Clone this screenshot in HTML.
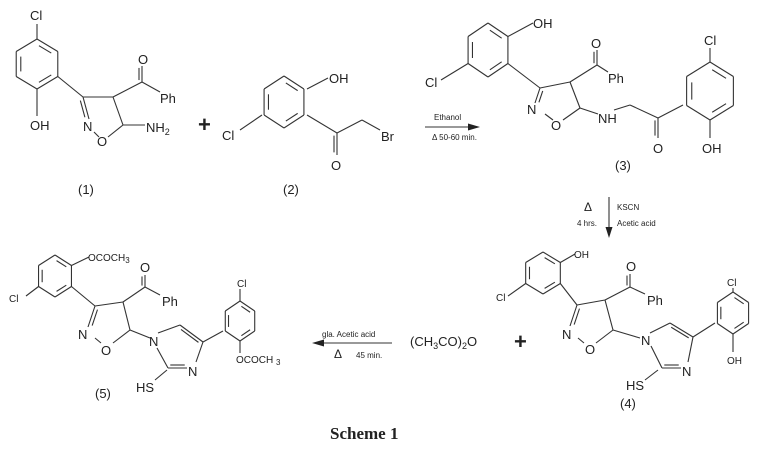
<!DOCTYPE html>
<html><head><meta charset="utf-8">
<style>
html,body{margin:0;padding:0;background:#fff;}
svg{display:block;}
text{font-family:"Liberation Sans",Arial,sans-serif;fill:#222;}
.s{font-size:8px;}
.m{font-size:10px;}
.l{font-size:13px;}
</style></head>
<body>
<svg id="sv" width="763" height="456" viewBox="0 0 763 456" xmlns="http://www.w3.org/2000/svg">
<g id="bonds" stroke="#333" stroke-width="1.1" fill="none"></g>
<!-- compound 1 -->
<text class="l" x="30" y="20">Cl</text>
<text class="l" x="30" y="130">OH</text>
<text class="l" x="83" y="131">N</text>
<text class="l" x="97" y="146">O</text>
<text class="l" x="138" y="64">O</text>
<text class="l" x="160" y="103">Ph</text>
<text class="l" x="146" y="132">NH<tspan font-size="9" dy="3">2</tspan></text>
<text class="l" x="78" y="194">(1)</text>
<text x="198" y="132" style="font-size:22px;font-weight:bold">+</text>
<!-- compound 2 -->
<text class="l" x="329" y="83">OH</text>
<text class="l" x="222" y="140">Cl</text>
<text class="l" x="331" y="170">O</text>
<text class="l" x="381" y="141">Br</text>
<text class="l" x="283" y="194">(2)</text>
<!-- arrow 1 -->
<text class="s" x="434" y="120">Ethanol</text>
<text class="s" x="432" y="140">Δ 50-60 min.</text>
<!-- compound 3 -->
<text class="l" x="533" y="28">OH</text>
<text class="l" x="425" y="87">Cl</text>
<text class="l" x="527" y="114">N</text>
<text class="l" x="551" y="130">O</text>
<text class="l" x="591" y="48">O</text>
<text class="l" x="608" y="83">Ph</text>
<text class="l" x="598" y="123">NH</text>
<text class="l" x="653" y="153">O</text>
<text class="l" x="704" y="45">Cl</text>
<text class="l" x="702" y="153">OH</text>
<text class="l" x="615" y="170">(3)</text>
<text x="584" y="211" style="font-size:12px">Δ</text>
<text class="s" x="577" y="226">4 hrs.</text>
<text class="s" x="617" y="210">KSCN</text>
<text class="s" x="617" y="226">Acetic acid</text>
<!-- compound 4 -->
<text class="m" x="574" y="258">OH</text>
<text class="m" x="496" y="301">Cl</text>
<text class="l" x="562" y="339">N</text>
<text class="l" x="585" y="354">O</text>
<text class="l" x="626" y="271">O</text>
<text class="l" x="647" y="305">Ph</text>
<text class="l" x="641" y="345">N</text>
<text class="l" x="682" y="376">N</text>
<text class="l" x="626" y="390">HS</text>
<text class="m" x="727" y="286">Cl</text>
<text class="m" x="727" y="364">OH</text>
<text class="l" x="620" y="408">(4)</text>
<text x="410" y="346" style="font-size:13px">(CH<tspan font-size="9" dy="3">3</tspan><tspan dy="-3">CO)</tspan><tspan font-size="9" dy="3">2</tspan><tspan dy="-3">O</tspan></text>
<text x="514" y="349" style="font-size:22px;font-weight:bold">+</text>
<!-- arrow 2 -->
<text class="s" x="322" y="337">gla. Acetic acid</text>
<text x="334" y="358" style="font-size:12px">Δ</text>
<text class="s" x="356" y="358">45 min.</text>
<!-- compound 5 -->
<text class="m" x="88" y="261">OCOCH<tspan font-size="8" dy="2">3</tspan></text>
<text class="m" x="9" y="302">Cl</text>
<text class="l" x="78" y="339">N</text>
<text class="l" x="101" y="355">O</text>
<text class="l" x="140" y="272">O</text>
<text class="l" x="162" y="306">Ph</text>
<text class="l" x="149" y="346">N</text>
<text class="l" x="188" y="376">N</text>
<text class="l" x="136" y="392">HS</text>
<text class="m" x="237" y="287">Cl</text>
<text class="m" x="236" y="363">OCOCH <tspan font-size="8" dy="2">3</tspan></text>
<text class="l" x="95" y="398">(5)</text>
<text x="330" y="439" style="font-family:'Liberation Serif',serif;font-size:17px;font-weight:bold">Scheme 1</text>
<polygon points="480,127 468,123.5 468,130.5" fill="#222"/>
<polygon points="609,238 605.5,227 612.5,227" fill="#222"/>
<polygon points="312,343 324,339.5 324,346.5" fill="#222"/>
</svg>
<script>
var g=document.getElementById('bonds'),NS='http://www.w3.org/2000/svg';
function L(a,b,c,d){var l=document.createElementNS(NS,'line');l.setAttribute('x1',a);l.setAttribute('y1',b);l.setAttribute('x2',c);l.setAttribute('y2',d);g.appendChild(l);}
function ring(cx,cy,r,ry,db){ry=ry||r;var v=[];for(var i=0;i<6;i++){var a=(-90+60*i)*Math.PI/180;v.push([cx+r*Math.cos(a),cy+ry*Math.sin(a)]);}
for(var i=0;i<6;i++){var p=v[i],q=v[(i+1)%6];L(p[0],p[1],q[0],q[1]);}
db.forEach(function(i){var p=v[i],q=v[(i+1)%6],f=0.78;var p2=[cx+(p[0]-cx)*f,cy+(p[1]-cy)*f],q2=[cx+(q[0]-cx)*f,cy+(q[1]-cy)*f];var t=0.12;L(p2[0]+(q2[0]-p2[0])*t,p2[1]+(q2[1]-p2[1])*t,q2[0]+(p2[0]-q2[0])*t,q2[1]+(p2[1]-q2[1])*t);});return v;}
function D(a,b,c,d,o){var dx=c-a,dy=d-b,len=Math.hypot(dx,dy),nx=-dy/len*o,ny=dx/len*o;L(a,b,c,d);L(a+nx+dx*0.12,b+ny+dy*0.12,c+nx-dx*0.12,d+ny-dy*0.12);}
// compound 1
var v=ring(37,64,24,25,[0,2,4]);
L(37,39,37,24);L(37,89,37,116);
L(v[2][0],v[2][1],83,97);
D(83,97,89,119,3.5);L(83,97,113,97);L(113,97,123,125);L(123,125,108,137);L(99,137,94,132);
L(113,97,142,82);D(142,82,142,66,-3);L(142,82,160,92);L(123,125,145,125);
// compound 2
v=ring(284,102,23,26,[0,2,4]);
L(307,89,328,78);L(262,115,240,130);L(307,115,337,133);D(337,133,337,155,3);L(337,133,362,120);L(362,120,380,130);
// arrow 1
L(425,127,470,127);
// compound 3
v=ring(488,50,23,27,[0,2,4]);
L(v[1][0],v[1][1],533,23);L(v[4][0],v[4][1],441,80);L(v[2][0],v[2][1],540,88);
D(540,88,535,103,-3.5);L(540,88,570,82);L(570,82,580,108);L(580,108,563,120);L(553,120,545,114);
L(570,82,597,65);D(597,65,597,50,-3);L(597,65,608,72);L(580,108,598,114);L(614,110,630,105);L(630,105,658,118);D(658,118,658,138,3);
v=ring(710,91,27,29,[0,2,4]);L(658,118,683,105);L(710,62,710,48);L(710,120,710,138);
// arrow 2
L(609,197,609,230);
// compound 4
v=ring(543,273,20,21,[0,2,4]);
L(v[1][0],v[1][1],575,254);L(v[4][0],v[4][1],508,296);L(v[2][0],v[2][1],577,305);
D(577,305,570,326,-3.5);L(577,305,605,300);L(605,300,613,330);L(613,330,596,343);L(584,343,578,338);
L(605,300,630,287);D(630,287,630,274,-3);L(630,287,645,294);L(613,330,640,338);
L(650,333,670,323);D(670,323,693,337,3);L(693,337,688,362);D(681,368,662,368,3);L(662,368,651,346);L(658,370,645,380);
v=ring(733,313,18,21,[0,2,4]);L(693,337,715,323);L(733,292,733,288);L(733,334,733,352);
// arrow 3
L(320,343,392,343);
// compound 5
v=ring(55,276,19,21,[0,2,4]);
L(v[1][0],v[1][1],89,257);L(v[4][0],v[4][1],26,296);L(v[2][0],v[2][1],95,306);
D(95,306,88,327,-3.5);L(95,306,123,302);L(123,302,130,330);L(130,330,113,343);L(101,343,95,338);
L(123,302,145,287);D(145,287,145,275,-3);L(145,287,160,295);L(130,330,150,338);
L(158,333,180,325);D(180,325,203,342,3);L(203,342,196,362);D(187,368,168,368,3);L(168,368,157,348);L(167,370,155,380);
v=ring(240,321,17,20,[0,2,4]);L(203,342,223,331);L(240,301,240,289);L(240,341,240,353);
</script>
</body></html>
